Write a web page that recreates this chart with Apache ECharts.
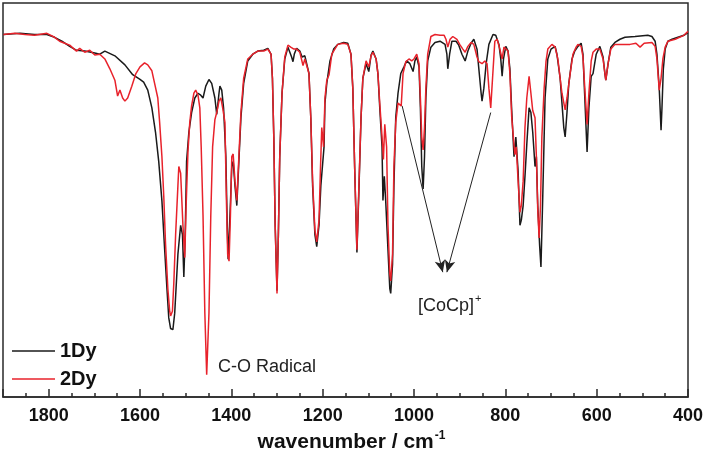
<!DOCTYPE html>
<html>
<head>
<meta charset="utf-8">
<script src="https://cdn.jsdelivr.net/npm/echarts@6/dist/echarts.min.js"></script>
<style>
html,body{margin:0;padding:0;background:#fff;}
#chart{width:708px;height:459px;}
</style>
</head>
<body>
<div id="chart"></div>
<script>
// 1Dy (black) : wavenumber (cm-1) and transmittance (a.u., 0-100)
var wn1 = [1899,1863,1831,1804,1787,1771,1754,1739,1721,1699,1688,1677,1655,1633,1616,1600,1592,1583,1574,1566,1559,1552,1546,1541,1537,1533,1528,1524,1517,1511,1507,1504,1501,1498,1493,1487,1480,1473,1467,1462,1456,1449,1443,1436,1432,1427,1425,1421,1417,1412,1409,1407,1403,1399,1396,1392,1388,1384,1379,1373,1364,1353,1342,1329,1320,1313,1310,1307,1304,1300,1297,1294,1289,1283,1276,1272,1268,1265,1262,1257,1250,1245,1239,1235,1230,1226,1222,1217,1213,1208,1204,1200,1197,1195,1191,1184,1176,1167,1154,1145,1138,1134,1130,1125,1121,1116,1112,1105,1099,1094,1090,1083,1079,1075,1070,1068,1065,1062,1057,1053,1051,1047,1044,1040,1035,1029,1022,1016,1009,1002,998,994,989,986,983,980,977,974,970,963,954,943,932,928,926,922,917,908,902,895,888,882,875,869,862,858,853,851,847,842,836,827,821,814,810,807,804,799,794,790,786,781,777,772,768,765,761,757,753,748,744,740,735,732,729,725,722,718,713,707,700,696,691,687,680,676,672,669,665,661,654,648,641,634,630,626,621,617,612,608,601,593,586,582,580,575,569,560,549,538,516,488,479,472,468,463,459,457,454,450,444,435,422,409,400];
var t1 = [92.0,92.3,92.0,92.0,91.3,90.3,89.0,88.0,87.8,87.3,87.0,87.8,86.6,84.3,81.8,80.6,79.9,77.9,73.4,67.2,59.8,49.8,37.4,27.5,20.1,17.4,17.1,21.3,36.2,43.6,41.2,30.5,41.2,59.8,67.2,72.2,75.9,77.1,76.6,75.9,78.9,80.6,79.6,75.9,71.7,77.1,78.9,77.9,73.4,61.0,43.6,35.0,46.1,58.5,59.8,53.6,48.6,58.5,70.9,79.6,85.3,87.0,87.8,88.0,88.5,87.0,80.9,66.0,43.6,27.0,41.2,61.0,77.1,85.8,88.8,88.3,86.3,85.1,87.1,88.5,87.8,86.3,86.6,86.3,82.1,70.9,53.6,41.2,38.2,43.6,53.6,54.1,63.5,74.6,79.6,85.3,88.3,89.5,90.0,89.8,87.0,78.4,58.5,36.7,51.1,70.9,80.9,84.6,82.6,86.8,87.8,85.8,82.1,73.4,63.5,49.9,56.0,49.9,37.4,27.5,26.3,33.7,53.6,70.9,77.1,82.1,83.8,85.3,84.6,82.6,85.3,86.3,83.8,73.4,58.5,52.8,61.0,75.9,85.3,88.8,90.0,90.3,89.5,87.0,83.3,87.0,90.3,90.3,89.3,87.0,85.3,87.8,89.8,90.8,88.3,83.3,77.1,75.1,78.4,84.6,89.5,92.0,91.8,89.5,85.8,81.4,85.8,89.0,87.8,83.3,72.7,61.0,66.0,57.3,43.6,44.9,48.6,56.0,64.2,73.4,72.2,67.2,58.5,61.0,48.6,38.7,33.0,51.1,75.9,85.8,88.3,88.8,89.0,87.0,80.9,74.6,68.4,66.0,72.2,79.6,85.8,87.8,89.0,89.8,87.0,75.9,62.2,73.4,81.4,82.1,87.0,89.0,86.3,82.1,80.4,84.6,88.8,90.0,90.8,91.3,91.5,91.8,91.5,90.3,87.0,78.4,67.7,73.4,83.3,88.3,90.3,90.8,91.3,91.8,92.5];

// 2Dy (red)
var wn2 = [1899,1874,1852,1831,1804,1787,1776,1765,1754,1739,1732,1721,1710,1699,1688,1677,1666,1655,1649,1644,1638,1633,1627,1618,1609,1600,1590,1583,1574,1568,1561,1557,1552,1548,1544,1539,1535,1533,1529,1526,1522,1517,1515,1511,1506,1502,1499,1495,1491,1487,1482,1478,1473,1469,1466,1462,1458,1454,1449,1445,1441,1436,1432,1427,1423,1419,1414,1411,1408,1405,1402,1399,1396,1392,1388,1384,1379,1373,1364,1353,1342,1329,1320,1313,1310,1307,1304,1300,1297,1294,1289,1283,1276,1270,1263,1257,1250,1243,1239,1235,1230,1226,1222,1217,1213,1208,1205,1202,1198,1195,1191,1186,1180,1167,1154,1145,1138,1134,1130,1125,1121,1116,1112,1105,1099,1094,1090,1083,1079,1075,1070,1067,1064,1060,1057,1053,1051,1047,1044,1040,1035,1031,1028,1024,1018,1011,1005,1000,994,989,986,983,980,977,974,970,963,954,943,934,930,926,921,915,906,900,893,888,882,875,869,862,858,851,845,840,836,832,828,823,818,812,807,803,799,794,790,786,781,779,776,772,768,765,761,757,753,748,744,740,735,732,729,726,723,720,715,711,707,698,691,685,680,676,669,665,658,652,645,641,634,630,626,621,617,612,608,601,593,586,580,575,569,560,549,527,514,505,496,479,472,468,463,459,455,450,444,428,409,400];
var t2 = [92.0,92.3,92.0,91.8,92.3,91.3,90.3,89.8,89.3,87.8,88.5,87.5,88.0,86.8,87.0,85.8,83.3,80.4,76.4,77.9,75.9,75.1,75.9,78.9,82.1,83.8,84.8,84.3,82.8,79.6,75.9,69.7,61.0,51.1,38.7,27.5,21.8,20.6,21.8,28.8,41.2,53.6,58.5,56.8,43.6,35.4,48.6,62.2,69.7,73.9,77.1,77.9,76.6,73.4,63.5,46.1,21.3,5.7,21.3,46.1,63.5,70.4,72.2,75.1,75.9,73.4,69.7,51.1,36.2,34.5,46.1,61.0,61.7,54.8,49.9,59.8,72.2,80.9,85.8,87.0,87.8,87.8,88.3,87.0,80.9,66.0,43.6,26.3,41.2,61.0,77.1,86.3,89.3,88.8,88.3,88.3,87.5,84.1,85.8,86.3,82.1,70.9,54.8,42.4,39.4,44.9,57.3,68.4,63.5,75.9,80.4,81.8,87.0,89.5,89.8,89.5,87.0,78.4,58.5,37.4,52.3,70.9,80.9,85.3,83.8,86.6,87.5,85.8,82.1,74.6,66.0,60.3,69.2,63.5,43.6,31.2,29.5,36.2,58.5,69.7,74.6,74.9,73.9,82.1,85.1,85.8,85.3,85.8,87.0,84.6,75.9,66.0,62.7,68.4,78.4,87.0,91.5,92.0,91.8,91.8,90.8,88.8,90.8,91.5,90.8,89.5,88.3,87.5,89.0,90.0,89.5,86.3,85.1,84.6,85.3,84.6,78.4,73.4,80.9,90.3,90.8,88.3,85.8,88.8,89.0,87.8,82.1,70.9,64.0,61.5,63.5,54.8,46.9,48.6,54.8,68.4,75.9,81.4,77.1,72.7,70.9,61.0,47.4,40.4,48.6,66.0,78.4,85.1,88.3,89.5,88.8,85.8,80.9,77.1,72.9,75.9,82.1,87.0,88.8,89.5,89.0,86.3,78.4,69.2,77.1,85.3,87.5,88.3,88.3,85.8,80.4,84.6,88.3,89.5,89.5,89.5,89.8,88.8,89.8,90.0,89.0,85.8,77.9,80.9,85.8,88.8,90.3,90.8,91.8,92.8];

var xTicks = [1800, 1600, 1400, 1200, 1000, 800, 600, 400];
var seriesNames = ['1Dy', '2Dy'];
// [CoCp]+ arrows: start and end in (wavenumber, transmittance)
var arrowA = [[1026, 73.9], [937, 31.7]];
var arrowB = [[832, 72.2], [928, 31.7]];

function pairs(w, t) { return w.map(function (x, i) { return [x, t[i]]; }); }

var FONT = '"Liberation Sans", Arial, sans-serif';
var chart = echarts.init(document.getElementById('chart'), null, {renderer: 'canvas'});
chart.setOption({
  animation: false,
  backgroundColor: '#fff',
  grid: {left: 3, right: 20, top: 3, bottom: 53, show: true, borderColor: '#2a2a2a', borderWidth: 1.5},
  legend: {
    data: seriesNames, orient: 'vertical', left: 12, top: 341, icon: 'rect', itemWidth: 43, itemHeight: 1.6, itemGap: 8, padding: 0,
    textStyle: {fontFamily: FONT, fontSize: 20, fontWeight: 'bold', color: '#111', lineHeight: 20}
  },
  xAxis: [{
    type: 'value', min: 400, max: 1900, interval: 200, inverse: true,
    axisLine: {show: true, lineStyle: {color: '#2a2a2a', width: 1.5}},
    axisTick: {show: true, inside: true, length: 8, lineStyle: {color: '#2a2a2a', width: 1.5}},
    splitLine: {show: false},
    axisLabel: {
      margin: 10, fontFamily: FONT, fontSize: 18, fontWeight: 'bold', color: '#111',
      formatter: function (v) { return xTicks.indexOf(v) >= 0 ? String(v) : ''; }
    },
    name: '{a|wavenumber / cm}{b|-1}', nameLocation: 'middle', nameGap: 29,
    nameTextStyle: {
      padding: [0, 0, 0, 12],
      rich: {
        a: {fontFamily: FONT, fontSize: 21, fontWeight: 'bold', color: '#111', lineHeight: 24},
        b: {fontFamily: FONT, fontSize: 12, fontWeight: 'bold', color: '#111', verticalAlign: 'top', lineHeight: 24, padding: [0, 0, 12, 1]}
      }
    }
  }, {
    type: 'value', min: 400, max: 1900, interval: 50, inverse: true, position: 'bottom',
    axisLine: {show: false},
    axisTick: {show: true, inside: true, length: 4, lineStyle: {color: '#2a2a2a', width: 1.5}},
    axisLabel: {show: false}, splitLine: {show: false}
  }],
  yAxis: {type: 'value', min: 0, max: 100, show: false},
  series: [{
    name: seriesNames[0], type: 'line', xAxisIndex: 0, data: pairs(wn1, t1),
    symbol: 'none', showSymbol: false, lineStyle: {color: '#1a1a1a', width: 1.5}, itemStyle: {color: '#1a1a1a'},
    markLine: {
      silent: true, symbol: ['none', 'arrow'], symbolSize: [8, 12], label: {show: false},
      lineStyle: {color: '#222', width: 1, type: 'solid'},
      data: [
        [{coord: arrowA[0]}, {coord: arrowA[1]}],
        [{coord: arrowB[0]}, {coord: arrowB[1]}]
      ]
    }
  }, {
    name: seriesNames[1], type: 'line', xAxisIndex: 0, data: pairs(wn2, t2),
    symbol: 'none', showSymbol: false, lineStyle: {color: '#e8222b', width: 1.5}, itemStyle: {color: '#e8222b'}
  }],
  graphic: [
    {type: 'text', left: 218, top: 358, style: {text: 'C-O Radical', font: '18px ' + FONT, fill: '#222'}},
    {type: 'text', left: 418, top: 297, style: {text: '[CoCp]', font: '18px ' + FONT, fill: '#222'}},
    {type: 'text', left: 475, top: 293, style: {text: '+', font: '11px ' + FONT, fill: '#222'}}
  ]
});
</script>
</body>
</html>
